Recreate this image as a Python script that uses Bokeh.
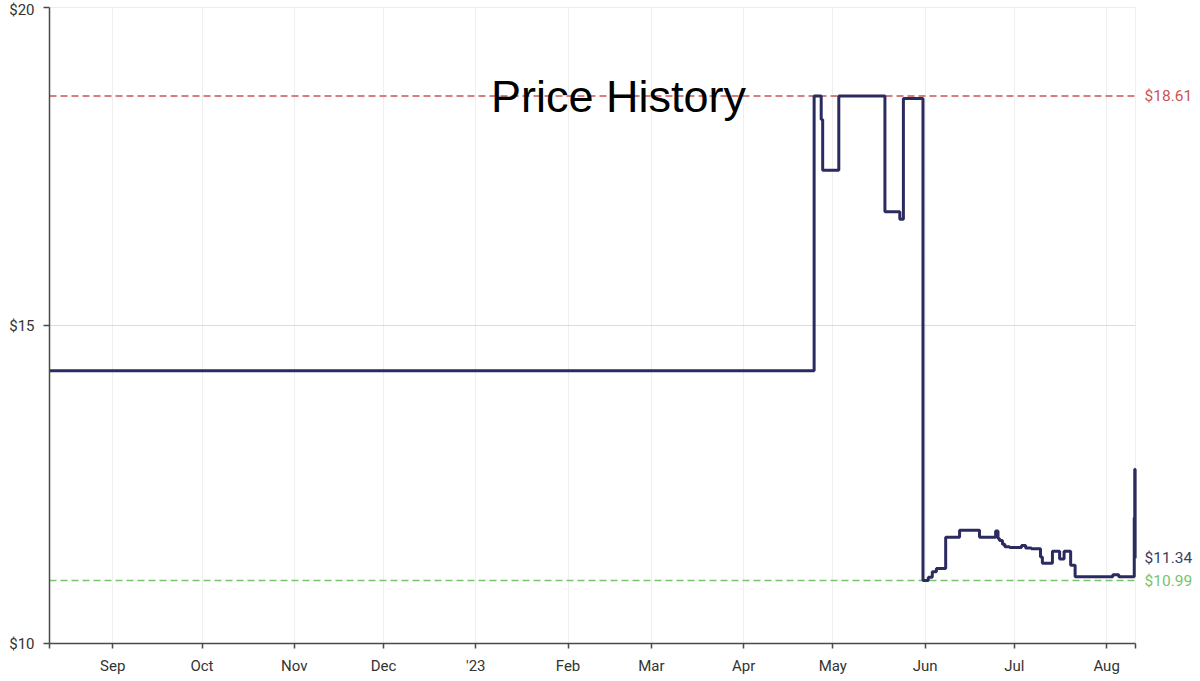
import pandas as pd
from bokeh.plotting import figure
from bokeh.models import Range1d, FixedTicker, NumeralTickFormatter, Label, ColumnDataSource
from bokeh.embed import file_html
from bokeh.resources import INLINE

# ---------------- data ----------------
change_dates = [
    "2022-08-10 18:00", "2023-04-24 17:00", "2023-04-27 02:00", "2023-04-27 14:00",
    "2023-05-03 00:00", "2023-05-18 12:00", "2023-05-23 12:00", "2023-05-24 17:00",
    "2023-05-31 07:00", "2023-06-02 02:00", "2023-06-03 10:00", "2023-06-04 19:00",
    "2023-06-07 22:00", "2023-06-12 14:00", "2023-06-19 07:00", "2023-06-24 17:00",
    "2023-06-25 12:00", "2023-06-26 00:00", "2023-06-27 00:00", "2023-06-27 19:00",
    "2023-06-29 10:00", "2023-07-03 10:00", "2023-07-04 19:00", "2023-07-06 17:00",
    "2023-07-09 19:00", "2023-07-10 10:00", "2023-07-13 19:00", "2023-07-16 05:00",
    "2023-07-17 17:00", "2023-07-19 22:00", "2023-07-21 10:00", "2023-08-03 02:00",
    "2023-08-05 02:00", "2023-08-10 07:00", "2023-08-10 11:00", "2023-08-10 14:00",
    "2023-08-10 17:00",
]
prices = [
    14.29, 18.61, 18.24, 17.44,
    18.61, 16.79, 16.67, 18.57,
    10.99, 11.04, 11.13, 11.18,
    11.67, 11.78, 11.67, 11.77,
    11.65, 11.62, 11.56, 11.52,
    11.51, 11.54, 11.50, 11.49,
    11.36, 11.26, 11.45, 11.33,
    11.45, 11.23, 11.05, 11.08,
    11.05, 11.98, 12.74, 11.34,
    11.34,
]
highest_price = 18.61
lowest_price = 10.99
current_price = 11.34

month_starts = ["2022-09-01", "2022-10-01", "2022-11-01", "2022-12-01", "2023-01-01",
                "2023-02-01", "2023-03-01", "2023-04-01", "2023-05-01", "2023-06-01",
                "2023-07-01", "2023-08-01"]
month_labels = ["Sep", "Oct", "Nov", "Dec", "'23", "Feb", "Mar", "Apr", "May", "Jun", "Jul", "Aug"]
price_ticks = [10, 15, 20]
title_text = "Price History"

# ---------------- styling ----------------
NAVY = "#2b2b60"
RED = "#c85656"
GREEN = "#78c46c"
AXIS = "#4a4a4a"
FONT = "Roboto"

PLOT_W = 1086      # width of the dated area in px
LABEL_W = 59       # extra room on the right for the price labels


def ms(s):
    return pd.Timestamp(s).value / 1e6


x_start = ms(change_dates[0])
x_end = ms(change_dates[-1])
x_span = x_end - x_start
x_view_end = x_end + x_span * LABEL_W / PLOT_W

p = figure(frame_width=PLOT_W + LABEL_W, frame_height=636,
           output_backend="svg", toolbar_location=None,
           x_axis_type="datetime",
           x_range=Range1d(x_start, x_view_end), y_range=Range1d(10, 20),
           min_border_left=49, min_border_right=0, min_border_top=7, min_border_bottom=30)
p.outline_line_color = None
p.background_fill_color = "white"
p.border_fill_color = "white"

src = ColumnDataSource(dict(x=pd.to_datetime(change_dates), y=prices))

# horizontal grid lines limited to the dated span
p.segment(x0=[x_start] * 2, x1=[x_end] * 2, y0=price_ticks[1:], y1=price_ticks[1:],
          line_color="#dcdcdc", line_width=1)

# reference lines (highest / lowest)
p.segment(x0=[x_start], x1=[x_end], y0=[highest_price], y1=[highest_price],
          line_color=RED, line_dash="7 4", line_width=1.5)
p.segment(x0=[x_start], x1=[x_end], y0=[lowest_price], y1=[lowest_price],
          line_color=GREEN, line_dash="7 4", line_width=1.5)

p.step("x", "y", source=src, mode="after", line_color=NAVY, line_width=3)

# axes
tick_vals = [x_start] + [ms(m) for m in month_starts] + [x_end]
p.xaxis.ticker = FixedTicker(ticks=tick_vals)
overrides = {ms(m): lab for m, lab in zip(month_starts, month_labels)}
overrides[x_start] = ""
overrides[x_end] = ""
p.xaxis.major_label_overrides = overrides
p.xaxis.bounds = (x_start, x_end)
p.yaxis.ticker = FixedTicker(ticks=price_ticks)
p.yaxis.formatter = NumeralTickFormatter(format="$0")

for ax in (p.xaxis, p.yaxis):
    ax.axis_line_color = AXIS
    ax.axis_line_width = 1.5
    ax.major_tick_line_color = AXIS
    ax.major_tick_line_width = 1.5
    ax.major_tick_in = 0
    ax.minor_tick_line_color = None
    ax.major_label_text_font = FONT
    ax.major_label_text_font_size = "15px"
    ax.major_label_text_color = "#333333"
p.xaxis.major_tick_out = 5
p.xaxis.major_label_standoff = 8
p.yaxis.major_tick_out = 6
p.yaxis.major_label_standoff = 9

p.xgrid.ticker = FixedTicker(ticks=tick_vals)
p.xgrid.grid_line_color = "#efefef"
p.xgrid.grid_line_width = 1
p.ygrid.grid_line_color = None

# title inside chart
p.add_layout(Label(x=x_start + 0.524 * x_span, y=18.60,
                   text=title_text, text_align="center", text_baseline="alphabetic",
                   text_font="Liberation Sans", text_font_size="45px", text_color="black"))

# right-side price labels
for val, col in ((highest_price, RED), (current_price, "#3c3c5c"), (lowest_price, GREEN)):
    p.add_layout(Label(x=x_end, y=val, x_offset=9, text="$%.2f" % val,
                       text_align="left", text_baseline="middle",
                       text_font=FONT, text_font_size="15.5px", text_color=col))

open("out.html", "w").write(file_html(p, INLINE))
